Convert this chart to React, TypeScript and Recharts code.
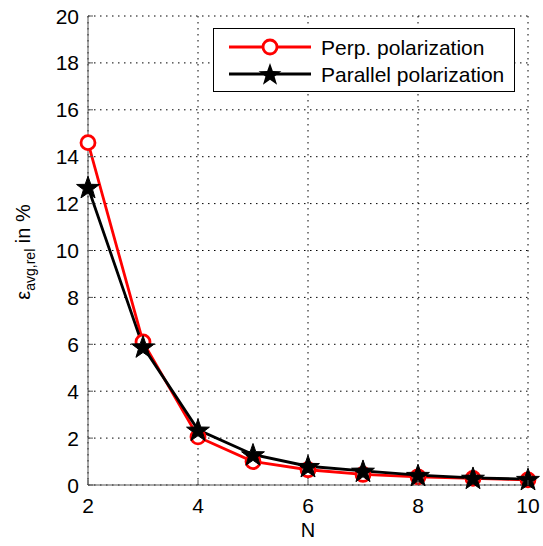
import { CartesianGrid, Line, LineChart, XAxis, YAxis } from 'recharts'

const nValues = [2, 3, 4, 5, 6, 7, 8, 9, 10]
const perpValues = [14.6, 6.1, 2.05, 1.0, 0.65, 0.45, 0.35, 0.28, 0.22]
const parallelValues = [12.7, 5.9, 2.35, 1.3, 0.8, 0.6, 0.42, 0.3, 0.25]
const xTicks = [2, 4, 6, 8, 10]
const yTicks = [0, 2, 4, 6, 8, 10, 12, 14, 16, 18, 20]

const data = nValues.map((n, i) => ({ n, perp: perpValues[i], parallel: parallelValues[i] }))

const FONT = '"Liberation Sans", Arial, sans-serif'
const AXIS = '#555'
const TICK_FS = 21

function starPoints(cx: number, cy: number, ro: number, ri: number) {
  const pts: string[] = []
  for (let k = 0; k < 10; k++) {
    const r = k % 2 === 0 ? ro : ri
    const a = -Math.PI / 2 + (k * Math.PI) / 5
    pts.push(`${cx + r * Math.cos(a)},${cy + r * Math.sin(a)}`)
  }
  return pts.join(' ')
}

const CircleDot = (props: any) => {
  const { cx, cy, index } = props
  if (cx == null || cy == null) return <g key={index} />
  return <circle key={index} cx={cx} cy={cy} r={7} fill="#fff" stroke="#ff0000" strokeWidth={2.8} />
}

const StarDot = (props: any) => {
  const { cx, cy, index } = props
  if (cx == null || cy == null) return <g key={index} />
  return <polygon key={index} points={starPoints(cx, cy + 1, 12, 4.8)} fill="#000" stroke="#000" strokeWidth={1} />
}

const BottomTick = (props: any) => {
  const { x, y, payload } = props
  return (
    <g>
      <line x1={x} x2={x} y1={y - 10} y2={y - 15} stroke={AXIS} />
      <text x={x} y={y + 18} textAnchor="middle" fontSize={TICK_FS} fontFamily={FONT} fill="#000">
        {payload.value}
      </text>
    </g>
  )
}

const LeftTick = (props: any) => {
  const { x, y, payload } = props
  return (
    <g>
      <line x1={x + 9} x2={x + 14} y1={y} y2={y} stroke={AXIS} />
      <text x={x} y={y + 7.5} textAnchor="end" fontSize={TICK_FS} fontFamily={FONT} fill="#000">
        {payload.value}
      </text>
    </g>
  )
}

const TopTick = (props: any) => {
  const { x, y } = props
  return <line x1={x} x2={x} y1={y} y2={y + 5} stroke={AXIS} />
}

const RightTick = (props: any) => {
  const { x, y } = props
  return <line x1={x} x2={x - 5} y1={y} y2={y} stroke={AXIS} />
}

const LegendBox = () => (
  <div
    style={{
      position: 'absolute',
      left: 213,
      top: 28,
      width: 300,
      height: 62,
      border: '1px solid #000',
      background: '#fff',
      fontFamily: FONT,
      fontSize: 21,
      color: '#000',
    }}
  >
    {[
      { label: 'Perp. polarization', color: '#ff0000', star: false },
      { label: 'Parallel polarization', color: '#000', star: true },
    ].map((item, i) => (
      <div key={item.label} style={{ display: 'flex', alignItems: 'center', height: 27, marginTop: i === 0 ? 5 : 0 }}>
        <svg width={107} height={27} style={{ display: 'block', flex: 'none' }}>
          <line x1={15} x2={97} y1={13} y2={13} stroke={item.color} strokeWidth={2.8} />
          {item.star ? (
            <polygon points={starPoints(56, 14, 12, 4.8)} fill="#000" />
          ) : (
            <circle cx={56} cy={13} r={7} fill="#fff" stroke="#ff0000" strokeWidth={2.8} />
          )}
        </svg>
        <span style={{ whiteSpace: 'nowrap', lineHeight: '27px' }}>{item.label}</span>
      </div>
    ))}
  </div>
)

export default function App() {
  return (
    <div style={{ position: 'absolute', left: 0, top: 0, width: 543, height: 546, background: '#fff' }}>
      <LineChart width={543} height={546} data={data} margin={{ top: 16, right: 15, left: 58, bottom: 31 }}>
        <CartesianGrid xAxisId="b" yAxisId="l" stroke="#000" strokeDasharray="1.5 4.5" strokeWidth={1} />
        <XAxis
          xAxisId="b"
          dataKey="n"
          type="number"
          domain={[2, 10]}
          ticks={xTicks}
          height={30}
          tickSize={0}
          tickMargin={10}
          tickLine={false}
          axisLine={{ stroke: AXIS }}
          tick={<BottomTick />}
        />
        <XAxis
          xAxisId="t"
          dataKey="n"
          type="number"
          orientation="top"
          domain={[2, 10]}
          ticks={xTicks}
          height={0}
          tickSize={0}
          tickMargin={0}
          tickLine={false}
          axisLine={{ stroke: AXIS }}
          tick={<TopTick />}
        />
        <YAxis
          yAxisId="l"
          type="number"
          domain={[0, 20]}
          ticks={yTicks}
          width={30}
          tickSize={0}
          tickMargin={9}
          tickLine={false}
          axisLine={{ stroke: AXIS }}
          tick={<LeftTick />}
        />
        <YAxis
          yAxisId="r"
          type="number"
          orientation="right"
          domain={[0, 20]}
          ticks={yTicks}
          width={0}
          tickSize={0}
          tickMargin={0}
          tickLine={false}
          axisLine={{ stroke: AXIS }}
          tick={<RightTick />}
        />
        <Line
          xAxisId="b"
          yAxisId="l"
          dataKey="perp"
          stroke="#ff0000"
          strokeWidth={2.8}
          dot={<CircleDot />}
          activeDot={false}
          isAnimationActive={false}
        />
        <Line
          xAxisId="b"
          yAxisId="l"
          dataKey="parallel"
          stroke="#000"
          strokeWidth={2.8}
          dot={<StarDot />}
          activeDot={false}
          isAnimationActive={false}
        />
      </LineChart>
      <LegendBox />
      <svg width={543} height={546} style={{ position: 'absolute', left: 0, top: 0, pointerEvents: 'none' }}>
        <text x={308} y={537} textAnchor="middle" fontFamily={FONT} fontSize={20} fill="#000">
          N
        </text>
        <text transform="translate(30,252) rotate(-90)" textAnchor="middle" fontFamily={FONT} fontSize={20} fill="#000">
          ε
          <tspan fontSize={14} dy={5}>
            avg,rel
          </tspan>
          <tspan dy={-5}> in %</tspan>
        </text>
      </svg>
    </div>
  )
}
